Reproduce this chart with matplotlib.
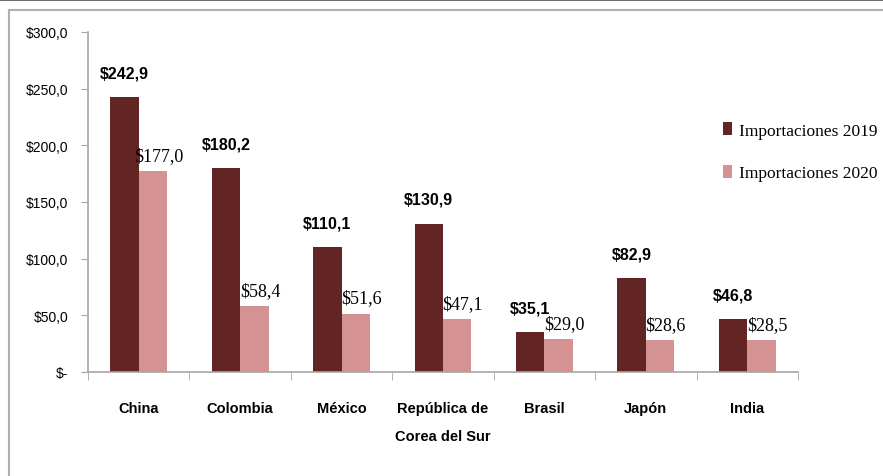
import numpy as np
import matplotlib
matplotlib.use("Agg")
import matplotlib.pyplot as plt
from matplotlib.ticker import FuncFormatter, FixedLocator
from matplotlib.lines import Line2D

# datos
paises = ["China", "Colombia", "México", "República de\nCorea del Sur", "Brasil", "Japón", "India"]
imp_2019 = [242.9, 180.2, 110.1, 130.9, 35.1, 82.9, 46.8]
imp_2020 = [177.0, 58.4, 51.6, 47.1, 29.0, 28.6, 28.5]
series = ["Importaciones 2019", "Importaciones 2020"]

c2019 = "#632523"
c2020 = "#d49392"
gris = "#a6a6a6"
sans = ["Liberation Sans", "DejaVu Sans"]
serif = ["Liberation Serif", "DejaVu Serif"]

def fmt(v):
    return f"${v:.1f}".replace(".", ",")

fig = plt.figure(figsize=(8.83, 4.77), dpi=100)
ax = fig.add_axes([88 / 883, 1 - 373 / 477, 710 / 883, 340 / 477])

x = np.arange(len(paises))
w = 0.28
ax.bar(x - w / 2, imp_2019, w, color=c2019, label=series[0])
ax.bar(x + w / 2, imp_2020, w, color=c2020, label=series[1])

for xi, v in zip(x, imp_2019):
    ax.annotate(fmt(v), (xi - w / 2, v), xytext=(0, 12), textcoords="offset points",
                ha="center", va="bottom", fontsize=11.5, fontweight="bold", family=sans)
for xi, v in zip(x, imp_2020):
    ax.annotate(fmt(v), (xi + w / 2, v), xytext=(4, 5), textcoords="offset points",
                ha="center", va="bottom", fontsize=13, family=serif)

ax.set_xlim(-0.5, len(paises) - 0.5)
ax.set_ylim(0, 300)
ax.set_yticks(np.arange(0, 301, 50))
ax.yaxis.set_major_formatter(FuncFormatter(lambda v, p: "$-" if v == 0 else fmt(v)))
ax.set_xticks(x)
ax.set_xticklabels(paises, fontsize=10.5, fontweight="bold", family=sans, linespacing=2.3, va="top")
ax.xaxis.set_minor_locator(FixedLocator(np.arange(-0.5, len(paises), 1)))
ax.tick_params(axis="x", which="major", length=0, pad=21)
ax.tick_params(axis="x", which="minor", length=6, color=gris, direction="out")
ax.tick_params(axis="y", length=5, color=gris, labelsize=10, pad=9)
for lab in ax.get_yticklabels():
    lab.set_family(sans)

for s in ["top", "right"]:
    ax.spines[s].set_visible(False)
for s in ["left", "bottom"]:
    ax.spines[s].set_color(gris)
    ax.spines[s].set_linewidth(1.2)

ax.legend(loc="upper left", bbox_to_anchor=(716 / 883, 1 - 116 / 477), bbox_transform=fig.transFigure,
          frameon=False, prop={"family": serif, "size": 12.5}, handlelength=0.5, handleheight=0.8,
          handletextpad=0.4, labelspacing=1.5, borderaxespad=0)

# marco de la imagen
fig.add_artist(Line2D([0, 1], [1 - 1 / 477, 1 - 1 / 477], transform=fig.transFigure, color="#707070", lw=1.5))
fig.add_artist(Line2D([9 / 883, 1], [1 - 11 / 477, 1 - 11 / 477], transform=fig.transFigure, color="#b0b0b0", lw=1.5))
fig.add_artist(Line2D([9 / 883, 9 / 883], [0, 1 - 11 / 477], transform=fig.transFigure, color="#b0b0b0", lw=1.5))

fig.savefig("out.png", dpi=100)
